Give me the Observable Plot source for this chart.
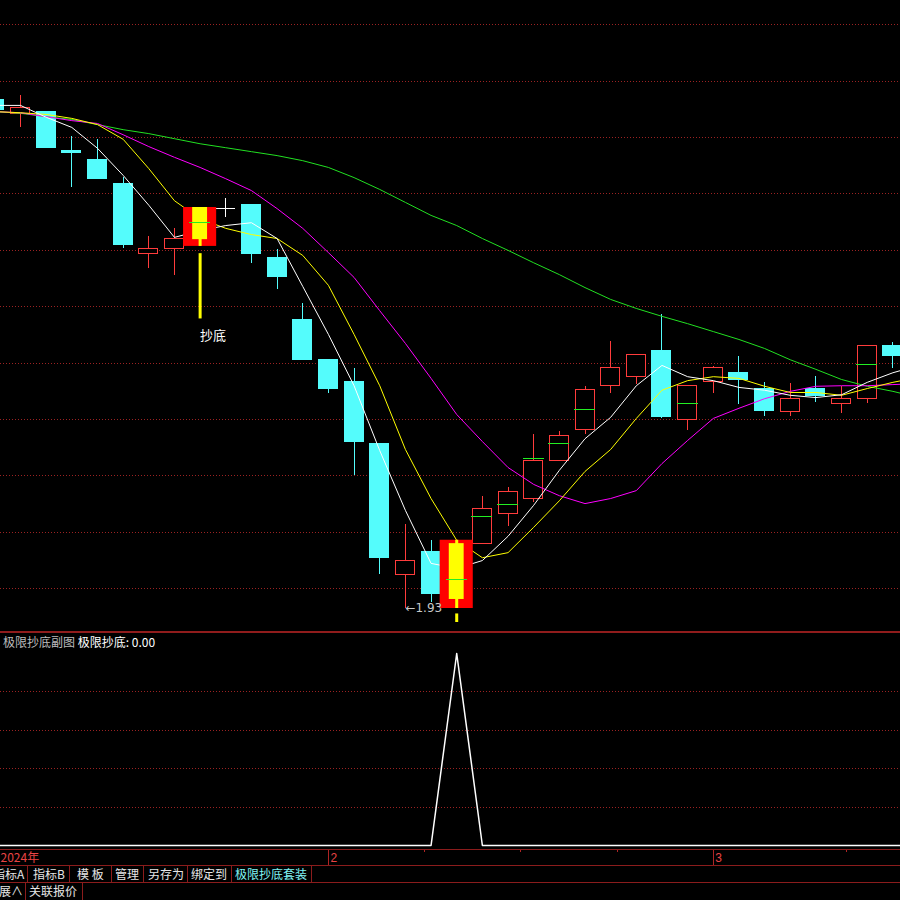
<!DOCTYPE html>
<html><head><meta charset="utf-8">
<script src="https://cdn.jsdelivr.net/npm/d3@7"></script>
<script src="https://cdn.jsdelivr.net/npm/@observablehq/plot@0.6"></script>
<style>
html,body{margin:0;padding:0;background:#000;width:900px;height:900px;overflow:hidden;}
#root{position:relative;width:900px;height:900px;background:#000;font-family:"Noto Sans CJK SC","DejaVu Sans",sans-serif;font-size:12px;color:#e6e6e6;}
.abs{position:absolute;}
.hl{position:absolute;left:0;width:900px;height:1px;background:#8b1c1c;}
.vl{position:absolute;width:1px;background:#8b1c1c;}
.t{position:absolute;white-space:pre;line-height:16px;font-size:12px;}
svg{display:block}
</style></head><body><div id="root"></div>
<script>
// ---- daily bars (visible window), oldest -> newest ----
const open  = [2.832,2.806,2.811,2.742,2.726,2.682,2.559,2.567,2.584,2.639,2.646,2.551,2.441,2.371,2.331,2.221,1.989,2.031,1.946,2.045,2.098,2.125,2.191,2.246,2.324,2.340,2.386,2.265,2.331,2.347,2.320,2.279,2.320,2.292,2.301,2.396];
const high  = [2.832,2.840,2.811,2.767,2.762,2.694,2.590,2.604,2.641,2.657,2.646,2.567,2.471,2.371,2.356,2.221,2.079,2.051,2.051,2.129,2.145,2.239,2.244,2.324,2.403,2.380,2.451,2.324,2.359,2.377,2.331,2.329,2.341,2.324,2.396,2.402];
const low   = [2.813,2.783,2.747,2.676,2.691,2.568,2.533,2.520,2.572,2.623,2.542,2.496,2.371,2.311,2.166,1.990,1.930,1.941,1.930,2.045,2.075,2.118,2.191,2.239,2.311,2.327,2.267,2.246,2.311,2.292,2.270,2.270,2.295,2.276,2.293,2.356];
const close = [2.813,2.817,2.747,2.737,2.691,2.575,2.567,2.586,2.641,2.639,2.558,2.517,2.371,2.320,2.226,2.020,2.015,1.955,2.045,2.106,2.136,2.191,2.235,2.317,2.356,2.380,2.270,2.324,2.356,2.336,2.281,2.301,2.306,2.301,2.396,2.377];

// moving averages as shown (last value belongs to the next bar, just past the right edge)
const ma5  = [2.822,2.822,2.801,2.783,2.746,2.698,2.645,2.588,2.600,2.609,2.614,2.586,2.501,2.416,2.325,2.210,2.104,2.010,2.001,2.015,2.058,2.113,2.175,2.231,2.269,2.325,2.361,2.341,2.334,2.322,2.317,2.308,2.304,2.309,2.331,2.348,2.361];
const ma10 = [2.811,2.809,2.806,2.799,2.788,2.762,2.710,2.653,2.621,2.604,2.593,2.586,2.556,2.503,2.416,2.325,2.212,2.125,2.051,2.020,2.029,2.074,2.121,2.173,2.212,2.267,2.317,2.334,2.341,2.338,2.324,2.313,2.313,2.308,2.320,2.331,2.340];
const ma20 = [2.811,2.809,2.802,2.795,2.790,2.770,2.749,2.730,2.712,2.692,2.671,2.639,2.604,2.561,2.517,2.458,2.400,2.338,2.274,2.226,2.180,2.150,2.130,2.116,2.125,2.139,2.187,2.228,2.267,2.285,2.302,2.315,2.324,2.325,2.325,2.327,2.329];
const ma60 = [2.811,2.808,2.802,2.797,2.788,2.779,2.772,2.763,2.754,2.747,2.740,2.733,2.724,2.712,2.694,2.673,2.650,2.627,2.609,2.586,2.565,2.543,2.522,2.499,2.478,2.462,2.448,2.435,2.421,2.407,2.391,2.371,2.354,2.336,2.324,2.315,2.304];

// green price marks drawn on some bars (null = none)
const avgMark = [null,null,null,null,null,null,null,null,2.614,null,null,null,null,null,null,null,null,null,1.981,2.093,2.114,2.196,2.223,2.283,null,null,null,2.293,null,null,null,null,null,null,2.363,null];
// "抄底" signal bars (main chart) and sub-indicator values
const signal    = [0,0,0,0,0,0,0,0,1,0,0,0,0,0,0,0,0,0,1,0,0,0,0,0,0,0,0,0,0,0,0,0,0,0,0,0];
const subValues = [0,0,0,0,0,0,0,0,0,0,0,0,0,0,0,0,0,0,1,0,0,0,0,0,0,0,0,0,0,0,0,0,0,0,0,0,0];
const signalText = "抄底";

// grid levels
const gridPrices = [1.965,2.065,2.165,2.265,2.365,2.465,2.565,2.665,2.765,2.865,2.965];
const subGrid = [0.2,0.4,0.6,0.8];

// date axis
const monthMarks = [{i:13, label:"2"}, {i:28, label:"3"}];
const minorTicks = [16.75, 20.5, 24.25, 33.2];
const yearLabel = "2024年";

// toolbar
const tabs = [
  {text:"指标A", left:-7, sep:27},
  {text:"指标B", left:33, sep:69},
  {text:"模 板", left:77, sep:111},
  {text:"管理", left:115, sep:143},
  {text:"另存为", left:148, sep:187},
  {text:"绑定到", left:191, sep:231},
  {text:"极限抄底套装", left:235, sep:311, color:"#80f4f4"}
];
const tabs2 = [{text:"展∧", left:-1, sep:25}, {text:"关联报价", left:29, sep:82}];

// ---- styles ----
const UP = "#ff3c3c", DOWN = "#54fcfc", FLAT = "#ffffff";
const GRID = "#9b2222";
const FONT = '"Noto Sans CJK SC","DejaVu Sans",sans-serif';
const Y_DOMAIN = [1.93, 2.93];

const bars = d3.range(open.length).map(i => ({
  i, o: open[i], h: high[i], l: low[i], c: close[i],
  dir: close[i] > open[i] ? "up" : close[i] < open[i] ? "down" : "flat",
  sig: signal[i], mark: avgMark[i]
}));
const colorOf = d => d.dir === "up" ? UP : d.dir === "down" ? DOWN : FLAT;
const normal = bars.filter(d => !d.sig);
const special = bars.filter(d => d.sig);
const BW = 0.37;

const xOpt = {type: "linear", domain: [0.2206, 35.295], range: [0, 900], axis: null};

const root = document.getElementById("root");

const main = Plot.plot({
  width: 900, height: 633,
  marginTop: 0, marginRight: 0, marginBottom: 11, marginLeft: 0,
  x: xOpt,
  y: {type: "linear", domain: Y_DOMAIN, range: [608, 44], axis: null},
  style: {background: "#000", fontFamily: FONT, overflow: "hidden"},
  marks: [
    Plot.ruleY(gridPrices, {stroke: GRID, strokeDasharray: "1,2", shapeRendering: "crispEdges"}),
    Plot.ruleX(normal, {x: "i", y1: d => Math.max(d.o, d.c), y2: "h", stroke: colorOf, shapeRendering: "crispEdges"}),
    Plot.ruleX(normal, {x: "i", y1: d => Math.min(d.o, d.c), y2: "l", stroke: colorOf, shapeRendering: "crispEdges"}),
    Plot.rect(normal.filter(d => d.dir !== "flat"), {
      x1: d => d.i - BW, x2: d => d.i + BW, y1: "o", y2: "c",
      fill: d => d.dir === "up" ? "#000" : DOWN, stroke: colorOf, shapeRendering: "crispEdges"
    }),
    Plot.ruleY(normal.filter(d => d.dir === "flat"), {y: "o", x1: d => d.i - BW, x2: d => d.i + BW, stroke: FLAT, shapeRendering: "crispEdges"}),
    Plot.lineY(ma60, {stroke: "#22e022", strokeWidth: 1}),
    Plot.lineY(ma20, {stroke: "#ff00ff", strokeWidth: 1}),
    Plot.lineY(ma10, {stroke: "#ffff00", strokeWidth: 1}),
    Plot.lineY(ma5, {stroke: "#ffffff", strokeWidth: 1}),
    // bottom-fishing signal bars
    Plot.rect(special, {x1: d => d.i - 0.645, x2: d => d.i + 0.645, y1: "l", y2: "h", fill: "#ff0000"}),
    Plot.ruleX(special, {x: "i", y1: "l", y2: "h", stroke: "#ffff00", strokeWidth: 3}),
    Plot.rect(special, {x1: d => d.i - 0.29, x2: d => d.i + 0.29, y1: "o", y2: "c", fill: "#ffff00"}),
    Plot.ruleX(special, {x: "i", y1: d => d.l * 0.995, y2: d => d.l * 0.95, stroke: "#ffff00", strokeWidth: 3, clip: true}),
    // label only where it falls inside the price panel (the lower one is off-panel in the original)
    Plot.text(special.filter(d => d.l * 0.95 >= Y_DOMAIN[0]), {x: "i", y: d => d.l * 0.95, text: () => signalText, dy: 17, textAnchor: "start", fill: "#ffffff", fontSize: 13}),
    Plot.ruleY(bars.filter(d => d.mark != null), {y: "mark", x1: d => d.i - 0.41, x2: d => d.i + 0.41, stroke: "#22ee22", shapeRendering: "crispEdges"}),
    Plot.text([d3.minIndex(low)], {x: d => d, y: d => low[d], text: d => "←" + low[d].toFixed(2), textAnchor: "start", fill: "#c8c8c8", fontSize: 12, fontFamily: "DejaVu Sans, Liberation Sans, sans-serif"})
  ]
});
main.style.position = "absolute"; main.style.left = "0px"; main.style.top = "0px";
root.appendChild(main);

const sub = Plot.plot({
  width: 900, height: 219,
  margin: 0,
  x: xOpt,
  y: {type: "linear", domain: [0, 1], range: [215, 23], axis: null},
  style: {background: "transparent", fontFamily: FONT, overflow: "hidden"},
  marks: [
    Plot.ruleY(subGrid, {stroke: GRID, strokeDasharray: "1,2", shapeRendering: "crispEdges"}),
    Plot.lineY(subValues, {stroke: "#ffffff", strokeWidth: 1.5})
  ]
});
sub.style.position = "absolute"; sub.style.left = "0px"; sub.style.top = "630px";
root.appendChild(sub);

const dateRow = Plot.plot({
  width: 900, height: 17, margin: 0,
  x: xOpt,
  y: {type: "linear", domain: [0, 17], range: [0, 17], axis: null},
  style: {background: "transparent", fontFamily: FONT, overflow: "hidden"},
  marks: [
    Plot.ruleX(monthMarks, {x: "i", y1: 0, y2: 17, stroke: "#b02424", shapeRendering: "crispEdges"}),
    Plot.ruleX(minorTicks, {x: d => d, y1: 0, y2: 3, stroke: "#b02424", shapeRendering: "crispEdges"}),
    Plot.text(monthMarks, {x: "i", y: 8.5, text: "label", dx: 2, textAnchor: "start", fill: "#e84444", fontSize: 12, fontFamily: "Liberation Sans, DejaVu Sans, sans-serif"}),
    Plot.text([yearLabel], {frameAnchor: "left", y: 8.5, text: d => d, dx: 0, textAnchor: "start", fill: "#e84444", fontSize: 12})
  ]
});
dateRow.style.position = "absolute"; dateRow.style.left = "0px"; dateRow.style.top = "849px";
root.appendChild(dateRow);

function add(html) { root.insertAdjacentHTML("beforeend", html); }
// panel separator & sub title
add('<div class="abs" style="left:0;top:631px;width:900px;height:2px;background:#901c1c"></div>');
add('<div class="t" style="left:3px;top:634px"><span style="color:#bcbcbc">极限抄底副图</span> <span style="color:#ffffff">极限抄底: 0.00</span></div>');
// bottom rows
add('<div class="hl" style="top:849px"></div>');
add('<div class="hl" style="top:865px"></div>');
add('<div class="hl" style="top:882px"></div>');
tabs.forEach(t => {
  add(`<div class="t" style="left:${t.left}px;top:866px;color:${t.color || "#e6e6e6"}">${t.text}</div>`);
  add(`<div class="vl" style="left:${t.sep}px;top:865px;height:17px"></div>`);
});
tabs2.forEach(t => {
  add(`<div class="t" style="left:${t.left}px;top:883px;color:#e6e6e6">${t.text}</div>`);
  add(`<div class="vl" style="left:${t.sep}px;top:882px;height:18px"></div>`);
});
</script>
</body></html>
